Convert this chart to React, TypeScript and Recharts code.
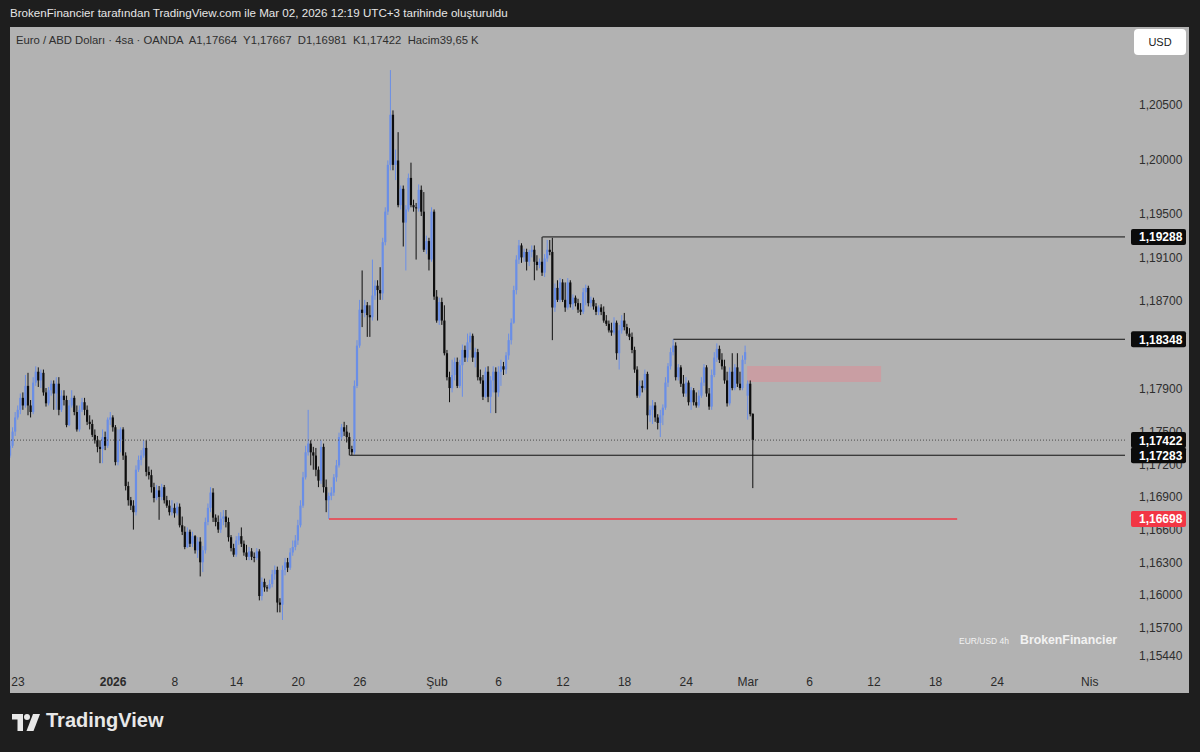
import { ComposedChart, Bar, XAxis, YAxis, ReferenceLine, ReferenceArea } from 'recharts';

// 4 saatlik EUR/USD mumları, pip cinsinden (1742 = 1,1742): [açılış, yüksek, düşük, kapanış]
const decBars = [
  [1728,1742,1726,1737],[1737,1754,1735,1750],[1750,1768,1746,1763],[1763,1774,1761,1770],[1770,1785,1766,1781],
  [1781,1786,1770,1774],[1774,1802,1772,1792],[1792,1804,1765,1774],[1774,1779,1763,1768],[1768,1800,1766,1795],
  [1795,1810,1792,1805],[1805,1809,1791,1797],[1797,1807,1790,1804],[1804,1807,1783,1786],[1786,1790,1773,1776],
  [1776,1791,1774,1788],[1788,1797,1783,1794],[1794,1797,1770,1785],[1785,1800,1770,1794],[1794,1800,1765,1770],
  [1770,1788,1768,1783],[1783,1788,1774,1779],[1779,1783,1754,1756],[1756,1779,1755,1774],[1774,1788,1772,1781],
  [1781,1783,1765,1768],[1768,1774,1750,1752],[1752,1774,1750,1770],[1770,1781,1768,1777],[1777,1781,1765,1770],
  [1770,1774,1756,1759],[1759,1765,1752,1757],[1757,1761,1745,1747],[1747,1752,1739,1742],[1742,1746,1731,1736],
  [1736,1742,1721,1734],[1734,1752,1721,1745],[1745,1750,1733,1737],[1737,1763,1735,1761],[1761,1768,1756,1763],
];

const janBars = [
  [1763,1765,1750,1754],[1754,1756,1719,1722],[1722,1752,1719,1742],[1742,1754,1731,1752],[1752,1754,1724,1728],
  [1728,1731,1696,1700],[1700,1704,1682,1687],[1687,1690,1678,1682],[1682,1687,1660,1676],[1676,1719,1673,1715],
  [1715,1728,1713,1724],[1724,1733,1719,1728],[1728,1742,1726,1735],[1735,1742,1709,1713],[1713,1718,1706,1710],
  [1710,1715,1694,1699],[1699,1703,1685,1689],[1689,1701,1687,1696],[1696,1700,1669,1690],[1690,1702,1687,1699],
  [1699,1701,1684,1687],[1687,1691,1680,1682],[1682,1687,1673,1676],[1676,1687,1673,1680],[1680,1684,1671,1675],
  [1675,1685,1673,1681],[1681,1684,1662,1664],[1664,1672,1655,1658],[1658,1663,1642,1644],[1644,1662,1643,1658],
  [1658,1660,1644,1647],[1647,1658,1644,1654],[1654,1655,1638,1641],[1641,1653,1634,1649],[1649,1653,1617,1630],
  [1630,1645,1621,1641],[1641,1671,1638,1667],[1667,1684,1664,1680],[1680,1699,1676,1694],[1694,1698,1667,1671],
  [1671,1674,1663,1667],[1667,1673,1657,1660],[1660,1676,1657,1670],[1670,1678,1664,1672],[1672,1678,1662,1667],
  [1667,1671,1649,1653],[1653,1655,1640,1643],[1643,1647,1635,1637],[1637,1654,1635,1650],[1650,1657,1646,1654],
  [1654,1662,1644,1647],[1647,1650,1636,1639],[1639,1646,1632,1635],[1635,1644,1632,1640],[1640,1643,1632,1635],
  [1635,1639,1630,1634],[1634,1643,1632,1640],[1640,1642,1595,1599],[1599,1616,1595,1612],[1612,1615,1603,1607],
  [1607,1609,1603,1606],[1606,1614,1605,1610],[1610,1623,1607,1619],[1619,1627,1614,1623],[1623,1626,1584,1593],
  [1593,1597,1584,1591],[1591,1627,1577,1623],[1623,1634,1618,1630],[1630,1634,1621,1625],[1625,1643,1623,1639],
  [1639,1650,1636,1644],[1644,1655,1641,1650],[1650,1669,1646,1664],[1664,1687,1662,1682],[1682,1713,1680,1708],
  [1708,1737,1706,1731],[1731,1770,1728,1739],[1739,1742,1719,1731],[1731,1736,1715,1728],[1728,1735,1709,1715],
  [1715,1718,1699,1705],[1705,1742,1702,1736],[1736,1739,1694,1699],[1699,1706,1676,1687],[1687,1694,1669.8,1691],
  [1691,1699,1687,1694],[1694,1711,1691,1708],[1708,1724,1704,1719],[1719,1749,1717,1745],[1745,1757,1742,1754],
  [1754,1759,1746,1750],[1750,1756,1740,1745],[1745,1749,1728.3,1734],[1734,1737,1728.5,1731],[1731,1797,1729,1792],
  [1792,1834,1790,1829],[1829,1871,1827,1862],[1862,1898,1846,1859],[1859,1871,1855,1866],[1866,1869,1837,1857],
  [1857,1866,1837,1855],[1855,1908,1852,1875],[1875,1889,1871,1884],[1884,1889,1852,1880],[1880,1901,1871,1877],
  [1877,1928,1871,1924],[1924,1956,1921,1952],[1952,1999,1949,1995],[1995,2082,1990,2041],[2041,2045,1990,1995],
  [1995,2009,1981,1999],[1999,2025,1956,1958],[1958,1976,1954,1973],[1973,1976,1920,1942],[1942,1958,1898,1954],
  [1954,1987,1952,1983],[1983,1997,1956,1958],[1958,1963,1952,1956],[1956,1960,1908,1955],[1955,1977,1952,1972],
  [1972,1976,1948,1952],[1952,1970,1915,1917],[1917,1930,1913,1925],[1925,1928,1898,1908],[1908,1956,1906,1952],
  [1952,1954,1871,1874],
];

const febBars = [
  [1874,1880,1850,1852],[1852,1873,1848,1869],[1869,1873,1848,1852],[1852,1866,1820,1822],[1822,1825,1797,1800],
  [1800,1805,1777,1790],[1790,1816,1786,1802],[1802,1818,1797,1814],[1814,1818,1790,1792],[1792,1816,1790,1811],
  [1811,1830,1782,1825],[1825,1829,1814,1818],[1818,1840,1814,1832],[1832,1841,1825,1838],[1838,1840,1814,1818],
  [1818,1827,1809,1823],[1823,1826,1797,1800],[1800,1807,1794,1797],[1797,1802,1779,1782],[1782,1809,1781,1805],
  [1805,1810,1777,1782],[1782,1801,1767,1797],[1797,1810,1786,1805],[1805,1809,1767,1786],[1786,1810,1782,1805],
  [1805,1816,1792,1810],[1810,1814,1802,1807],[1807,1823,1803,1820],[1820,1840,1816,1834],[1834,1854,1830,1850],
  [1850,1884,1849,1880],[1880,1912,1876,1908],[1908,1926,1904,1921],[1921,1923,1905,1910],[1910,1918,1906,1915],
  [1915,1918,1898,1906],[1906,1917,1902,1915],[1915,1921,1910,1917],[1917,1921,1889,1906],[1906,1912,1898,1903],
  [1903,1909,1900,1906],[1906,1928.8,1893,1896],[1896,1913,1892,1909],[1909,1926,1906,1917],[1917,1926,1912,1915],
  [1915,1928,1834,1864],[1864,1886,1860,1882],[1882,1889,1869,1871],[1871,1891,1869,1887],[1887,1890,1869,1871],
  [1871,1887,1860,1864],[1864,1891,1862,1887],[1887,1889,1864,1867],[1867,1876,1862,1873],[1873,1875,1865,1868],
  [1868,1872,1859,1862],[1862,1868,1857,1860],[1860,1882,1858,1878],[1878,1885,1866,1882],[1882,1884,1865,1868],
  [1868,1874,1864,1871],[1871,1873,1862,1865],[1865,1868,1857,1860],[1860,1866,1857,1864],[1864,1867,1857,1860],
  [1860,1865,1850,1852],[1852,1857,1847,1849],[1849,1852,1841,1843],[1843,1850,1838,1841],[1841,1855,1839,1850],
  [1850,1852,1816,1822],[1822,1848,1807,1843],[1843,1857,1840,1852],[1852,1859,1843,1846],[1846,1849,1838,1840],
  [1840,1845,1834,1837],[1837,1841,1822,1825],[1825,1828,1804,1807],[1807,1810,1781,1783],[1783,1797,1781,1792],
  [1792,1797,1786,1790],[1790,1807,1788,1803],[1803,1805,1752,1765],[1765,1774,1759,1770],[1770,1779,1757,1774],
  [1774,1777,1759,1763],[1763,1766,1752,1758],[1758,1770,1745,1765],[1765,1775,1756,1772],[1772,1800,1770,1795],
  [1795,1813,1791,1810],[1810,1827,1807,1823],[1823,1834.8,1820,1829],[1829,1832,1797,1800],[1800,1812,1797,1809],
  [1809,1811,1791,1794],[1794,1802,1782,1785],[1785,1800,1782,1795],[1795,1797,1774,1777],[1777,1791,1770,1788],
  [1788,1790,1774,1777],[1777,1786,1772,1774],[1774,1788,1772,1783],[1783,1800,1781,1795],[1795,1812,1792,1809],
  [1809,1811,1782,1785],[1785,1790,1770,1773],[1773,1807,1770,1802],[1802,1823,1800,1818],[1818,1831,1814,1826],
  [1826,1829,1813,1816],[1816,1822,1807,1810],[1810,1816,1794,1797],[1797,1805,1773,1776],[1776,1809,1774,1805],
  [1805,1822,1788,1790],[1790,1812,1788,1809],[1809,1822,1791,1794],[1794,1805,1788,1790],[1790,1820,1788,1816],
  [1816,1829,1812,1823],
];

const marBars = [
  [1783,1797,1761,1794],[1794,1797,1764,1766],[1766.4,1766.7,1698.1,1742.2],
];

// zaman ekseni: mum sırası ve etiketi
const tickIdx = [3, 40, 64, 88, 112, 136, 166, 190, 215, 239, 263, 287, 311, 336, 360, 384, 420];
const tickLabels = ['23', '2026', '8', '14', '20', '26', 'Şub', '6', '12', '18', '24', 'Mar', '6', '12', '18', '24', 'Nis'];

const priceTicks = [1.205, 1.2, 1.195, 1.191, 1.187, 1.179, 1.175, 1.172, 1.169, 1.166, 1.163, 1.16, 1.157, 1.1544];

const lastPrice = 1.17422;
const levels = [1.19288, 1.18348, 1.17283];
const levelStart = [207, 258, 132];
const supportLevel = 1.16698;
const supportRange = [124, 368.4];
const gapZone = { from: 286.7, to: 338.8, low: 1.17956, high: 1.18103 };

const UP = '#6a8ee6';
const DOWN = '#0e0e0e';
const FONT = '"Liberation Sans", Arial, sans-serif';
const X_MAX = 433.7;

const toPrice = (v: number) => 1 + v / 10000;

const bars = [...decBars, ...janBars, ...febBars, ...marBars].map(([o, h, l, c], i) => ({
  i,
  o: toPrice(o),
  h: toPrice(h),
  l: toPrice(l),
  c: toPrice(c),
  range: [toPrice(l), toPrice(h)],
}));

const Candle = (props: any) => {
  const { x, y, width, height, payload } = props;
  if (!payload || x == null) return <g />;
  const { o, h, l, c } = payload;
  const top = Math.min(y, y + height);
  const full = Math.abs(height);
  const k = h > l ? full / (h - l) : 0;
  const cx = x + width / 2;
  const yo = top + (h - o) * k;
  const yc = top + (h - c) * k;
  const color = c >= o ? UP : DOWN;
  return (
    <g>
      <line x1={cx} x2={cx} y1={top} y2={top + full} stroke={color} strokeWidth={1} />
      <rect x={cx - 1.1} y={Math.min(yo, yc)} width={2.2} height={Math.max(1, Math.abs(yo - yc))} fill={color} />
    </g>
  );
};

const XTick = (props: any) => {
  const { x, y, payload } = props;
  const n = tickIdx.indexOf(payload.value);
  const label = tickLabels[n];
  return (
    <text x={x} y={y} dy="0.71em" textAnchor="middle" fill="#2a2a2a" fontSize={12} fontFamily={FONT}
      fontWeight={label === '2026' ? 'bold' : 'normal'}>
      {label}
    </text>
  );
};

const YTick = (props: any) => {
  const { x, y, payload } = props;
  const v = payload.value;
  const label = v.toFixed(5).replace('.', ',');
  const boxed = levels.includes(v) || v === lastPrice;
  const red = v === supportLevel;
  if (boxed || red) {
    return (
      <g>
        <rect x={x - 8} y={y - 8} width={55} height={16} rx={2} fill={red ? '#f23645' : '#0b0b0b'} />
        <text x={x} y={y} dy={4.5} fill="#ffffff" fontSize={12} fontWeight="bold" fontFamily={FONT}>{label}</text>
      </g>
    );
  }
  return (
    <text x={x} y={y} dy={4.5} fill="#2e2e2e" fontSize={12} fontFamily={FONT}>{label}</text>
  );
};

export default function App() {
  return (
    <div style={{ position: 'absolute', left: 0, top: 0, width: 1200, height: 752, background: '#1e1e1e', fontFamily: FONT, overflow: 'hidden' }}>
      <div style={{ position: 'absolute', left: 10, top: 6, color: '#e6e6e6', fontSize: 11.6, whiteSpace: 'pre' }}>
        BrokenFinancier tarafından TradingView.com ile Mar 02, 2026 12:19 UTC+3 tarihinde oluşturuldu
      </div>

      <div style={{ position: 'absolute', left: 10, top: 27, width: 1179, height: 666, background: '#b2b2b2' }}>
        <ComposedChart width={1179} height={666} data={bars} margin={{ top: 0, right: 0, bottom: 0, left: 0 }}>
          <XAxis type="number" dataKey="i" domain={[-0.12, X_MAX]} allowDataOverflow ticks={tickIdx} interval={0}
            axisLine={false} tickLine={false} tickSize={0} tickMargin={9} height={25} tick={XTick} />
          <YAxis type="number" orientation="right" domain={[1.15329, 1.21216]} allowDataOverflow
            ticks={[...priceTicks, ...levels, lastPrice, supportLevel]} interval={0}
            axisLine={false} tickLine={false} tickSize={0} tickMargin={14} width={64} tick={YTick} />
          <ReferenceArea x1={gapZone.from} x2={gapZone.to} y1={gapZone.low} y2={gapZone.high} fill="#c99ea3" fillOpacity={1} stroke="none" />
          <ReferenceLine y={lastPrice} stroke="#4a4a4a" strokeDasharray="1 2" />
          {levels.map((p, n) => (
            <ReferenceLine key={p} segment={[{ x: levelStart[n], y: p }, { x: X_MAX, y: p }]} stroke="#111111" strokeWidth={1} />
          ))}
          <ReferenceLine segment={[{ x: supportRange[0], y: supportLevel }, { x: supportRange[1], y: supportLevel }]} stroke="#ef3b47" strokeWidth={1.5} />
          <Bar dataKey="range" barSize={2} shape={Candle} isAnimationActive={false} />
        </ComposedChart>
      </div>

      <div style={{ position: 'absolute', left: 16, top: 34, color: '#2e2e2e', fontSize: 11.3, whiteSpace: 'pre' }}>
        {'Euro / ABD Doları · 4sa · OANDA  A1,17664  Y1,17667  D1,16981  K1,17422  Hacim39,65 K'}
      </div>

      <div style={{ position: 'absolute', left: 1134, top: 29, width: 52, height: 26, background: '#ffffff', borderRadius: 4,
        color: '#1a1a1a', fontSize: 11, display: 'flex', alignItems: 'center', justifyContent: 'center' }}>
        USD
      </div>

      <div style={{ position: 'absolute', left: 959, top: 636, color: '#f2f2f2', fontSize: 8.5, whiteSpace: 'pre' }}>EUR/USD 4h</div>
      <div style={{ position: 'absolute', left: 1020, top: 633, color: '#f2f2f2', fontSize: 12.3, fontWeight: 'bold', whiteSpace: 'pre' }}>BrokenFinancier</div>

      <svg style={{ position: 'absolute', left: 12, top: 714 }} width={30} height={18}>
        <path d="M0 0 H11 V17 H5.5 V5.5 H0 Z" fill="#e8e8e8" />
        <circle cx={15} cy={3} r={3} fill="#e8e8e8" />
        <path d="M21 0 H28 L21.5 17 H14.5 Z" fill="#e8e8e8" />
      </svg>
      <div style={{ position: 'absolute', left: 46, top: 709, color: '#e8e8e8', fontSize: 20, fontWeight: 600, whiteSpace: 'pre' }}>TradingView</div>
    </div>
  );
}
